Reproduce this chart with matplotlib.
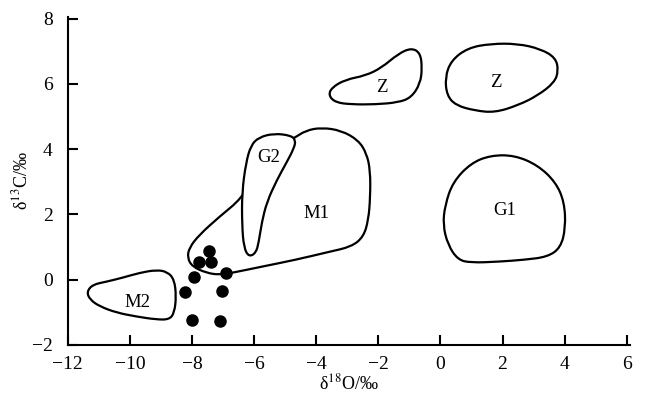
import numpy as np
import matplotlib.pyplot as plt
from matplotlib.path import Path
from matplotlib.patches import PathPatch

plt.rcParams['font.family'] = ['Liberation Serif', 'DejaVu Serif']
plt.rcParams['mathtext.fontset'] = 'stix'

## sample points: d18O, d13C
d18o = [-7.45, -7.77, -7.38, -7.93, -6.90, -8.22, -7.03, -7.99, -7.10]
d13c = [0.88, 0.55, 0.55, 0.09, 0.21, -0.37, -0.34, -1.22, -1.28]

## field outlines (x, y)
m1_x = [-4.72, -4.34, -3.83, -3.19, -2.64, -2.38, -2.26, -2.26, -2.32, -2.48, -2.87, -3.60, -4.66,
        -5.75, -6.71, -7.13, -7.54, -7.99, -8.15, -8.09, -7.77, -7.13, -6.39, -6.01, -5.53]
m1_y = [4.33, 4.57, 4.66, 4.57, 4.27, 3.87, 3.35, 2.53, 1.83, 1.31, 1.01, 0.85, 0.61,
        0.40, 0.21, 0.15, 0.21, 0.40, 0.67, 0.98, 1.37, 1.92, 2.50, 3.20, 3.96]

g2_x = [-5.85, -5.37, -4.82, -4.66, -4.72, -4.95, -5.27, -5.59, -5.75, -5.85, -5.94, -6.17,
        -6.33, -6.39, -6.39, -6.26, -6.10]
g2_y = [4.36, 4.48, 4.42, 4.27, 4.02, 3.60, 3.05, 2.38, 1.77, 1.16, 0.82, 0.70,
        0.98, 1.68, 2.68, 3.60, 4.12]

m2_x = [-11.20, -10.75, -10.24, -9.69, -9.15, -8.79, -8.57, -8.51, -8.57, -8.73, -9.15, -9.79,
        -10.43, -10.97, -11.29, -11.39]
m2_y = [-0.15, -0.06, 0.06, 0.21, 0.30, 0.24, 0.0, -0.52, -1.01, -1.22, -1.22, -1.13,
        -1.01, -0.82, -0.61, -0.37]

z1_x = [-3.60, -3.51, -3.06, -2.42, -1.90, -1.36, -0.94, -0.65, -0.59, -0.65, -0.94, -1.36,
        -2.10, -2.87, -3.38]
z1_y = [5.64, 5.88, 6.13, 6.25, 6.49, 6.92, 7.10, 6.95, 6.49, 6.01, 5.58, 5.43,
        5.37, 5.37, 5.43]

z2_x = [0.34, 0.88, 1.62, 2.49, 3.22, 3.71, 3.80, 3.67, 3.13, 2.49, 1.75, 1.11, 0.50, 0.21, 0.15]
z2_y = [6.71, 7.10, 7.23, 7.23, 7.07, 6.80, 6.40, 6.04, 5.64, 5.34, 5.12, 5.18, 5.34, 5.64, 6.19]

g1_x = [0.15, 0.40, 0.98, 1.62, 2.39, 3.13, 3.71, 3.99, 4.03, 3.87, 3.45, 2.71, 1.85, 0.98,
        0.56, 0.24, 0.08]
g1_y = [2.29, 2.99, 3.57, 3.81, 3.81, 3.51, 2.99, 2.38, 1.59, 0.98, 0.70, 0.61, 0.55, 0.52,
        0.61, 1.07, 1.68]

labels = ['M1', 'G2', 'M2', 'Z', 'Z', 'G1']
label_x = [-3.99, -5.53, -9.76, -1.90, 1.78, 2.07]
label_y = [2.04, 3.75, -0.70, 5.88, 6.04, 2.13]


## closed smooth outline: the listed points act as quadratic bezier control points
def smooth_outline(xs, ys):
    pts = np.column_stack([xs, ys])
    mids = (pts + np.roll(pts, -1, axis=0)) / 2
    verts = [mids[-1]]
    codes = [Path.MOVETO]
    for k in range(len(pts)):
        verts += [pts[k], mids[k]]
        codes += [Path.CURVE3, Path.CURVE3]
    return Path(verts, codes)


fig = plt.figure(figsize=(6.46, 4.03), dpi=100)
ax = fig.add_axes([0.105, 0.144, 0.870, 0.814])

fields = [(m1_x, m1_y), (g2_x, g2_y), (m2_x, m2_y), (z1_x, z1_y), (z2_x, z2_y), (g1_x, g1_y)]
for i, (fx, fy) in enumerate(fields):
    ax.add_patch(PathPatch(smooth_outline(fx, fy), facecolor='white', edgecolor='black',
                           linewidth=1.6, zorder=2 + i))

for t, lx, ly in zip(labels, label_x, label_y):
    ax.text(lx, ly, t, ha='center', va='center', fontsize=13.5, zorder=10)

ax.scatter(d18o, d13c, s=64, color='black', zorder=12)

ax.set_xlim(-12, 6.1)
ax.set_ylim(-2, 8.05)
ax.set_xticks(np.arange(-12, 7, 2))
ax.set_yticks(np.arange(-2, 9, 2))
ax.spines['top'].set_visible(False)
ax.spines['right'].set_visible(False)
for s in ['left', 'bottom']:
    ax.spines[s].set_linewidth(1.5)
ax.tick_params(direction='in', length=7, width=1.5, labelsize=14)
ax.tick_params(axis='x', pad=8)
ax.tick_params(axis='y', pad=11)

ax.set_xlabel('δ$^{18}$O/‰', fontsize=13, labelpad=0)
ax.set_ylabel('δ$^{13}$C/‰', fontsize=13, labelpad=0)

fig.savefig('out.png', dpi=100)
